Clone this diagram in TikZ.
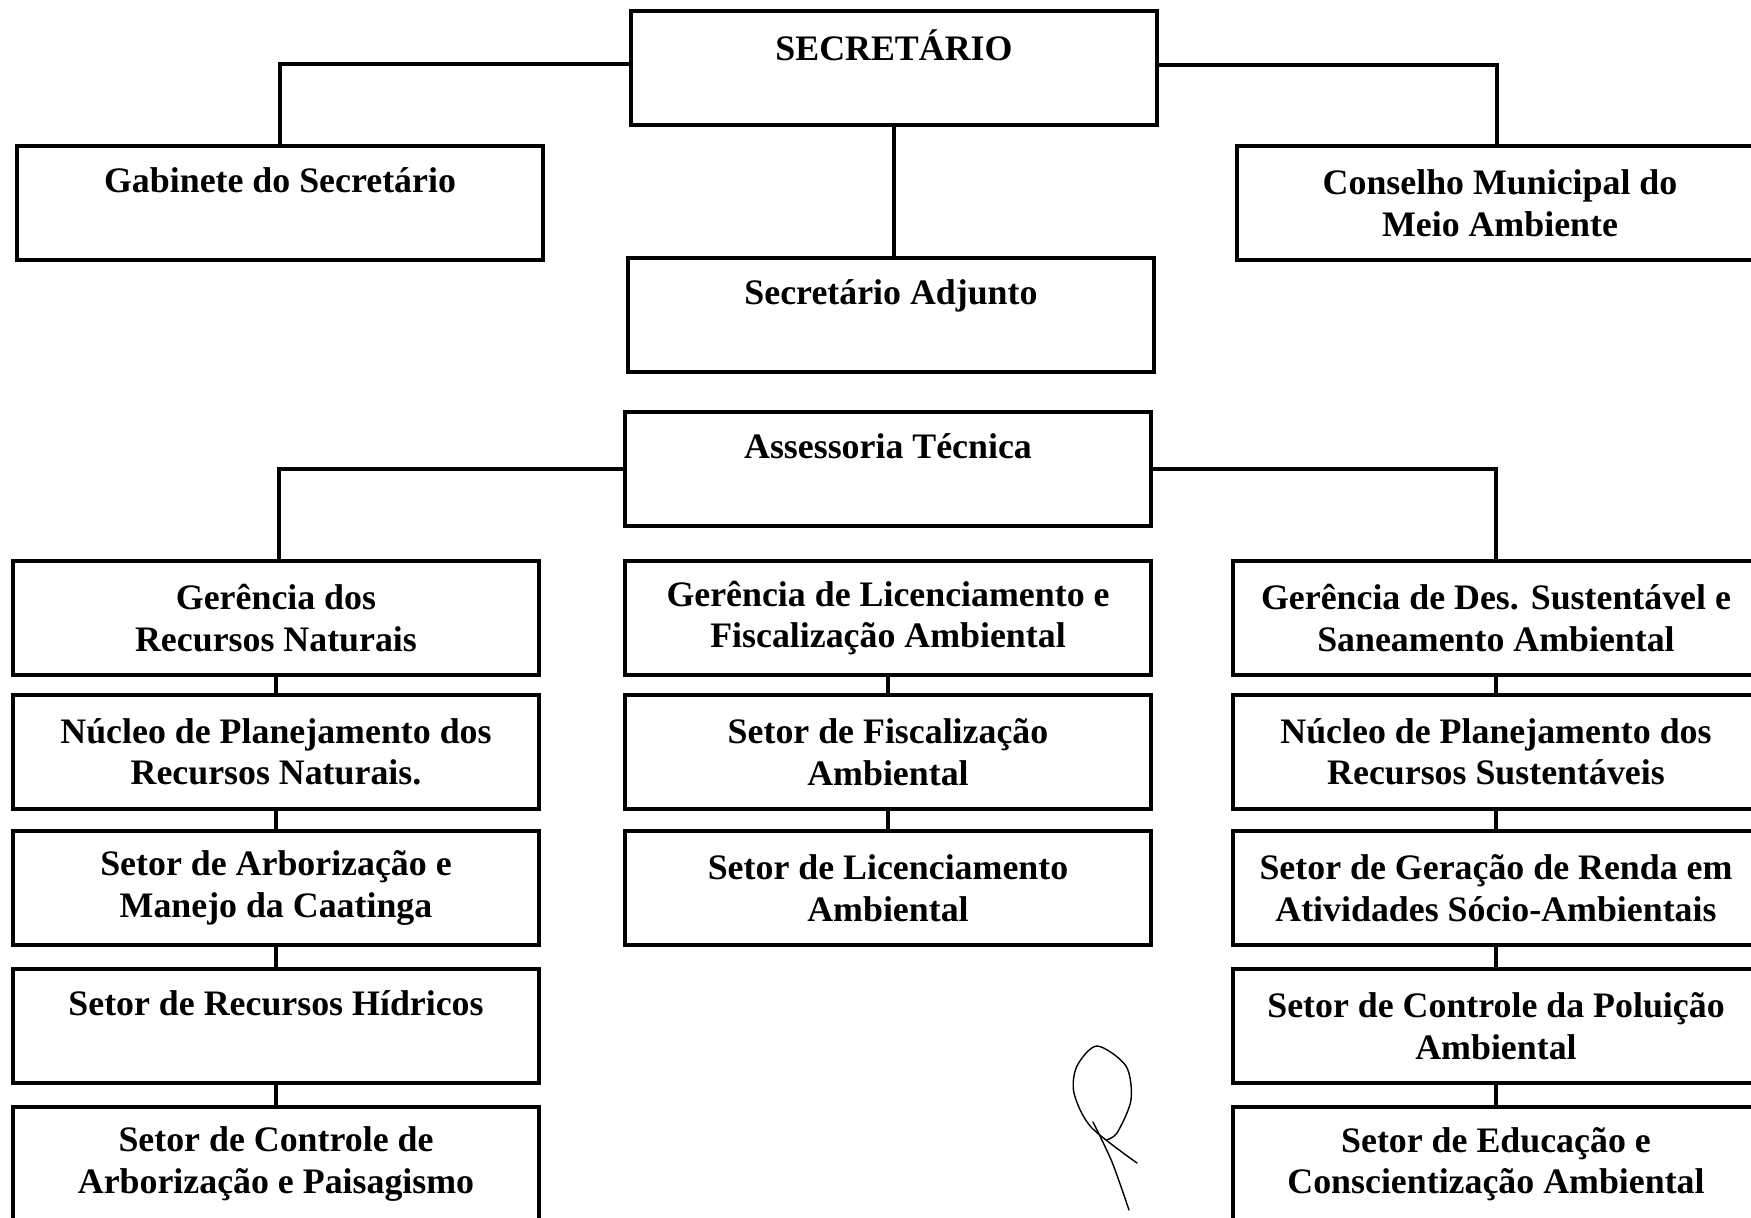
\documentclass[tikz,border=0pt]{standalone}
\usepackage{fontspec}
\setmainfont{Liberation Serif}
\usetikzlibrary{positioning}
\tikzset{
    unit/.style = {rectangle, draw=black, line width=1pt, minimum width=5.26cm, minimum height=1.14cm, inner sep=0pt, align=center, font=\fontsize{10.2}{11.8}\selectfont\bfseries},
    unitt/.style = {unit, text depth=13pt}, % one line, set high
    link/.style = {line width=1pt},
    sign/.style = {line width=0.4pt, line cap=round}
}
\begin{document}
\begin{tikzpicture}
  \useasboundingbox (0,0) rectangle (17.51,-12.18);

  \node[unitt] (sec)  at (8.94,-0.68) {SECRETÁRIO};
  \node[unitt] (gab)  at (2.80,-2.03) {Gabinete do Secretário};
  \node[unit]  (cons) at (15.00,-2.03) {Conselho Municipal do\\Meio Ambiente};
  \node[unitt] (adj)  at (8.91,-3.15) {Secretário Adjunto};
  \node[unitt] (ass)  at (8.88,-4.69) {Assessoria Técnica};

  \node[unit]  (ger1) at (2.76,-6.18)  {Gerência dos\\Recursos Naturais};
  \node[unit]  (nuc1) at (2.76,-7.52)  {Núcleo de Planejamento dos\\Recursos Naturais.};
  \node[unit]  (arb)  at (2.76,-8.88)  {Setor de Arborização e\\Manejo da Caatinga};
  \node[unitt] (hid)  at (2.76,-10.26) {Setor de Recursos Hídricos};
  \node[unit]  (pai)  at (2.76,-11.64) {Setor de Controle de\\Arborização e Paisagismo};

  \node[unit]  (ger2) at (8.88,-6.18)  {Gerência de Licenciamento e\\Fiscalização Ambiental};
  \node[unit]  (fis)  at (8.88,-7.52)  {Setor de Fiscalização\\Ambiental};
  \node[unit]  (lic)  at (8.88,-8.88)  {Setor de Licenciamento\\Ambiental};

  \node[unit]  (ger3) at (14.96,-6.18)  {Gerência de Des. Sustentável e\\Saneamento Ambiental};
  \node[unit]  (nuc3) at (14.96,-7.52)  {Núcleo de Planejamento dos\\Recursos Sustentáveis};
  \node[unit]  (ren)  at (14.96,-8.88)  {Setor de Geração de Renda em\\Atividades Sócio-Ambientais};
  \node[unit]  (pol)  at (14.96,-10.26) {Setor de Controle da Poluição\\Ambiental};
  \node[unit]  (edu)  at (14.96,-11.64) {Setor de Educação e\\Conscientização Ambiental};

  \draw[link] ([yshift=0.04cm]sec.west) -| (gab.north);
  \draw[link] ([yshift=0.03cm]sec.east) -| ([xshift=-0.03cm]cons.north);
  \draw[link] (sec.south) -- (sec.south |- adj.north);
  \draw[link] (ass.west) -| ([xshift=0.03cm]ger1.north);
  \draw[link] (ass.east) -| (ger3.north);
  \foreach \a/\b in {ger1/nuc1, nuc1/arb, arb/hid, hid/pai, ger2/fis, fis/lic, ger3/nuc3, nuc3/ren, ren/pol, pol/edu}
    \draw[link] (\a.south) -- (\b.north);

  % initials
  \draw[sign] plot[smooth] coordinates {(11.37,-11.63) (10.91,-11.27) (10.74,-10.93) (10.77,-10.66) (10.97,-10.46) (11.26,-10.66) (11.31,-11.0) (11.17,-11.33) (11.06,-11.40)};
  \draw[sign] plot[smooth] coordinates {(10.93,-11.22) (11.12,-11.62) (11.29,-12.10)};
\end{tikzpicture}
\end{document}
